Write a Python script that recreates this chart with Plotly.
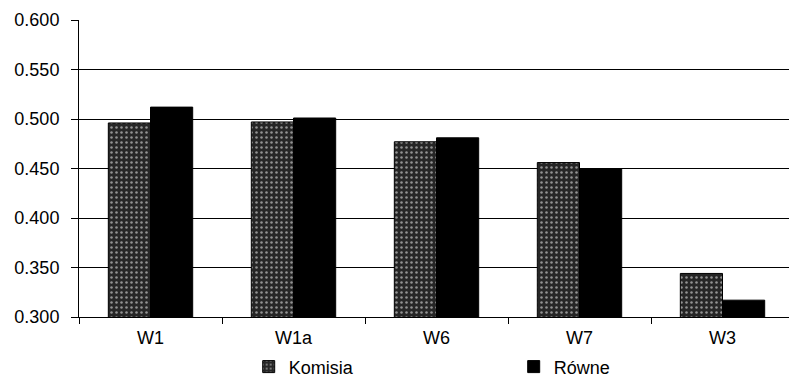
import plotly.graph_objects as go

categories = ["W1", "W1a", "W6", "W7", "W3"]
komisja = [0.496, 0.497, 0.477, 0.456, 0.344]
rowne = [0.512, 0.501, 0.481, 0.450, 0.317]
y_ticks = [0.300, 0.350, 0.400, 0.450, 0.500, 0.550, 0.600]

font = dict(family="Liberation Sans, Arial, sans-serif", size=18, color="black")

fig = go.Figure()
fig.add_trace(go.Bar(
    x=categories, y=komisja, name="Komisia",
    marker=dict(
        color="#262626",
        line=dict(color="black", width=1),
        pattern=dict(shape=".", fgcolor="white", size=5, solidity=0.2),
    ),
))
fig.add_trace(go.Bar(
    x=categories, y=rowne, name="Równe",
    marker=dict(color="black", line=dict(color="black", width=1)),
))

fig.update_layout(
    width=789, height=386,
    margin=dict(l=79, r=0, t=20, b=69),
    paper_bgcolor="white", plot_bgcolor="white",
    font=font,
    barmode="group", bargap=0.41, bargroupgap=0,
    showlegend=True,
    legend=dict(
        orientation="h", x=0.239, xanchor="left", y=-0.168, yanchor="middle",
        entrywidth=220, entrywidthmode="pixels",
        font=font, itemwidth=30,
    ),
)
fig.update_xaxes(
    range=[-0.5, 4.465],
    showline=True, linecolor="black", linewidth=1,
    ticks="outside", ticklen=6, tickcolor="black",
    tickson="boundaries", showgrid=False,
    tickfont=font, ticklabelstandoff=4,
)
fig.update_yaxes(
    range=[0.300, 0.600],
    tickvals=y_ticks, ticktext=[f"{v:.3f}" for v in y_ticks],
    showline=True, linecolor="black", linewidth=1,
    ticks="outside", ticklen=7, tickcolor="black",
    showgrid=True, gridcolor="black", gridwidth=1,
    zeroline=False, tickfont=font, ticklabelstandoff=8,
)

fig.write_html("out.html")
